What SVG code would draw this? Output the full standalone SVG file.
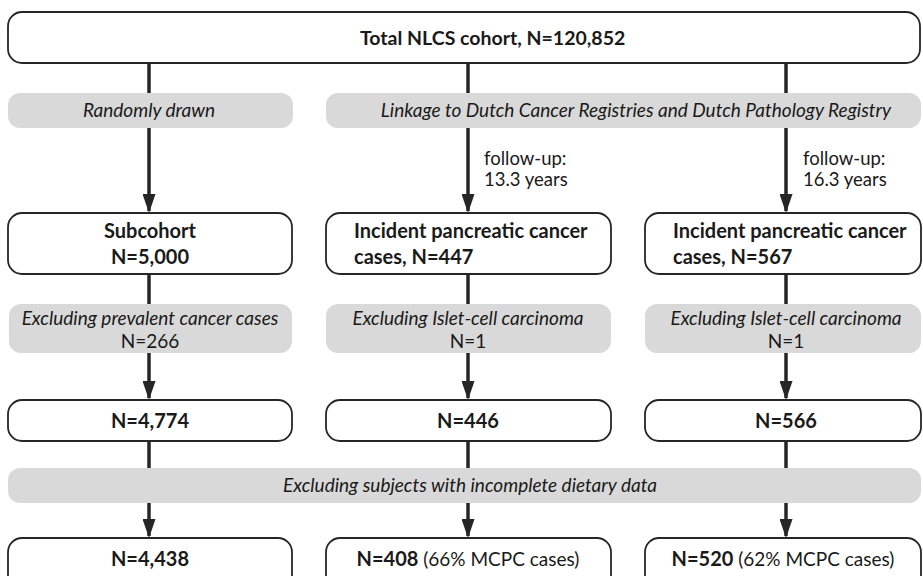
<svg xmlns="http://www.w3.org/2000/svg" width="923" height="576" viewBox="0 0 923 576">
<style>
.box{fill:#fff;stroke:#262626;stroke-width:1.8}
.band{fill:#d9d9d9;stroke:none}
.conn{stroke:#262626;stroke-width:3.5;fill:none}
text{font-family:Lato,"Open Sans","Liberation Sans",sans-serif;fill:#1a1a1a}
.b{font-weight:bold;font-size:20px}
.i{font-style:italic;font-size:19px}
.n{font-size:19px}
.f{font-size:18.5px}
.c{text-anchor:middle}
</style>
<defs>
<marker id="ah" markerUnits="userSpaceOnUse" markerWidth="20" markerHeight="13" refX="17" refY="6.5" orient="auto">
<path d="M0,0 L19,6.5 L0,13 z" fill="#262626"/>
</marker>
</defs>
<rect width="923" height="576" fill="#fff"/>
<g id="connectors">
<line class="conn" x1="149" y1="63" x2="149" y2="211" marker-end="url(#ah)"/>
<line class="conn" x1="468" y1="63" x2="468" y2="211" marker-end="url(#ah)"/>
<line class="conn" x1="786" y1="63" x2="786" y2="211" marker-end="url(#ah)"/>
<line class="conn" x1="149" y1="274" x2="149" y2="398" marker-end="url(#ah)"/>
<line class="conn" x1="468" y1="274" x2="468" y2="398" marker-end="url(#ah)"/>
<line class="conn" x1="786" y1="274" x2="786" y2="398" marker-end="url(#ah)"/>
<line class="conn" x1="149" y1="441" x2="149" y2="536" marker-end="url(#ah)"/>
<line class="conn" x1="468" y1="441" x2="468" y2="536" marker-end="url(#ah)"/>
<line class="conn" x1="786" y1="441" x2="786" y2="536" marker-end="url(#ah)"/>
</g>
<g id="total">
<rect class="box" x="8" y="12" width="912" height="51" rx="14"/>
<text class="b" x="360" y="45" style="font-size:19.5px">Total NLCS cohort, N=120,852</text>
</g>
<g id="random">
<rect class="band" x="8" y="93" width="285" height="35" rx="12"/>
<text class="i c" x="149" y="117">Randomly drawn</text>
</g>
<g id="linkage">
<rect class="band" x="326" y="93" width="595" height="35" rx="12"/>
<text class="i c" x="636" y="117">Linkage to Dutch Cancer Registries and Dutch Pathology Registry</text>
</g>
<g id="fu1">
<text class="f" x="484" y="165">follow-up:</text>
<text class="f" x="484" y="186">13.3 years</text>
</g>
<g id="fu2">
<text class="f" x="803" y="165">follow-up:</text>
<text class="f" x="803" y="186">16.3 years</text>
</g>
<g id="subcohort">
<rect class="box" x="8" y="213" width="284" height="61" rx="14"/>
<text class="b c" x="150" y="238">Subcohort</text>
<text class="b c" x="150" y="264">N=5,000</text>
</g>
<g id="inc447">
<rect class="box" x="326" y="213" width="285" height="61" rx="14"/>
<text class="b" x="354" y="238">Incident pancreatic cancer</text>
<text class="b" x="354" y="264">cases, N=447</text>
</g>
<g id="inc567">
<rect class="box" x="645" y="213" width="276" height="61" rx="14"/>
<text class="b" x="673" y="238">Incident pancreatic cancer</text>
<text class="b" x="673" y="264">cases, N=567</text>
</g>
<g id="excl1">
<rect class="band" x="9" y="304" width="283" height="49" rx="12"/>
<text class="i c" x="150" y="325">Excluding prevalent cancer cases</text>
<text class="n c" x="150" y="348">N=266</text>
</g>
<g id="excl2">
<rect class="band" x="326" y="304" width="285" height="49" rx="12"/>
<text class="i c" x="468" y="325">Excluding Islet-cell carcinoma</text>
<text class="n c" x="468" y="348">N=1</text>
</g>
<g id="excl3">
<rect class="band" x="645" y="304" width="276" height="49" rx="12"/>
<text class="i c" x="786" y="325">Excluding Islet-cell carcinoma</text>
<text class="n c" x="786" y="348">N=1</text>
</g>
<g id="n4774">
<rect class="box" x="8" y="400" width="284" height="41" rx="14"/>
<text class="b c" x="150" y="428">N=4,774</text>
</g>
<g id="n446">
<rect class="box" x="326" y="400" width="285" height="41" rx="14"/>
<text class="b c" x="468" y="428">N=446</text>
</g>
<g id="n566">
<rect class="box" x="645" y="400" width="276" height="41" rx="14"/>
<text class="b c" x="786" y="428">N=566</text>
</g>
<g id="diet">
<rect class="band" x="8" y="468" width="913" height="35" rx="12"/>
<text class="i c" x="470" y="492">Excluding subjects with incomplete dietary data</text>
</g>
<g id="n4438">
<rect class="box" x="8" y="538" width="284" height="60" rx="14"/>
<text class="b c" x="150" y="566">N=4,438</text>
</g>
<g id="n408">
<rect class="box" x="326" y="538" width="285" height="60" rx="14"/>
<text class="c" x="468" y="566"><tspan class="b">N=408</tspan><tspan class="n"> (66% MCPC cases)</tspan></text>
</g>
<g id="n520">
<rect class="box" x="645" y="538" width="276" height="60" rx="14"/>
<text class="c" x="783" y="566"><tspan class="b">N=520</tspan><tspan class="n"> (62% MCPC cases)</tspan></text>
</g>
</svg>
